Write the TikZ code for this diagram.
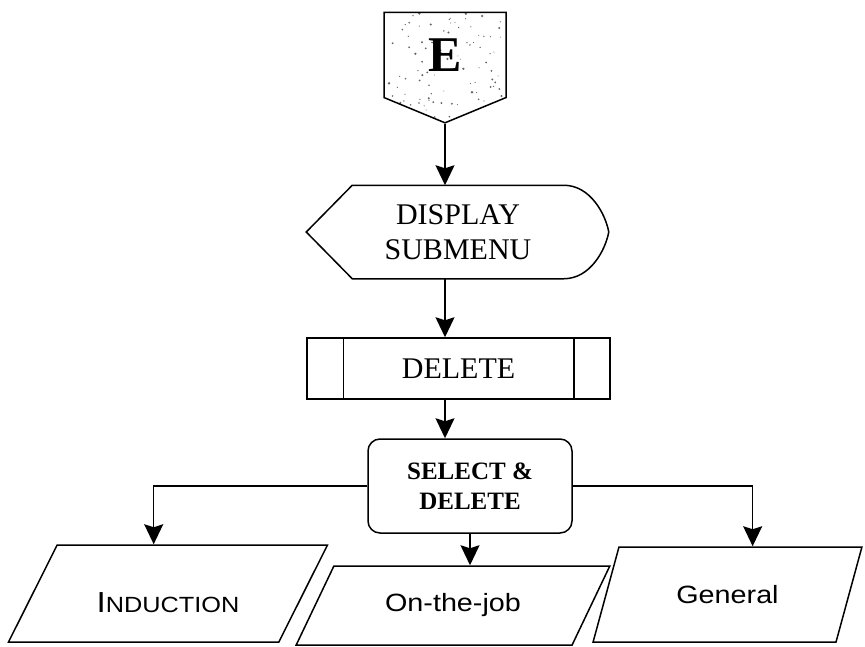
\documentclass[tikz,border=0pt]{standalone}
\usepackage{fontspec}
\setmainfont{Liberation Serif}
\newfontfamily\flowsans[FakeStretch=1.15]{Liberation Sans}
\usetikzlibrary{arrows.meta,shapes.geometric,shapes.symbols}

\begin{document}
\begin{tikzpicture}[x=1pt, y=-1pt, line width=1.5pt,
    arr/.style={-{Stealth[length=20pt,width=19pt,inset=3pt]}},
    io/.style={draw, trapezium, trapezium stretches=true, inner sep=0pt,
      font=\flowsans\fontsize{25}{30}\selectfont}]
  \useasboundingbox (0,0) rectangle (865,646);
  % off-page connector
  \node[draw, shape=signal, signal to=south, signal pointer angle=135,
    minimum width=122pt, minimum height=92pt, inner sep=0pt,
    font=\bfseries\fontsize{50}{50}\selectfont,
    path picture={\pgfmathsetseed{11}
      \foreach \k in {1,...,110}{
        \pgfmathsetmacro{\dotr}{0.5+0.8*rnd}
        \fill[black!60] ([shift={({rand*58},{rand*58})}]path picture bounding box.center)
          circle (\dotr pt);}}] (E) at (445,55) {E};
  % display
  \node[minimum width=210pt, minimum height=92pt, align=center,
    font=\fontsize{30}{35}\selectfont] (disp) at (458,232) {DISPLAY\\SUBMENU};
  \draw (disp.north west) -- (disp.north east)
    .. controls +(27,0) and +(-3,-17) .. ([xshift=45pt]disp.east)
    .. controls +(-3,17) and +(27,0) .. (disp.south east)
    -- (disp.south west) -- ([xshift=-46pt]disp.west) -- cycle;
  % predefined process
  \node[draw, minimum width=303pt, minimum height=61pt,
    font=\fontsize{30}{30}\selectfont] (del) at (458.5,368.5) {DELETE};
  \draw ([xshift=37pt]del.north west) -- ([xshift=37pt]del.south west)
    ([xshift=-37pt]del.north east) -- ([xshift=-37pt]del.south east);
  \node[draw, rounded corners=12pt, minimum width=204pt, minimum height=94pt,
    align=center, font=\bfseries\fontsize{25}{30}\selectfont] (sel) at (470,486)
    {SELECT \&\\DELETE};
  % the three outputs
  \node[io, trapezium left angle=50.5, trapezium right angle=129.5,
    minimum width=320pt, minimum height=97pt, text height=38pt, text depth=0pt]
    (ind) at (168,593.5)
    {{\fontsize{29}{30}\selectfont I}{\fontsize{22}{25}\selectfont NDUCTION}};
  \node[io, trapezium left angle=47.3, trapezium right angle=132.7,
    minimum width=314pt, minimum height=79pt] (job) at (453,605.5) {On-the-job};
  \node[io, trapezium left angle=56.4, trapezium right angle=123.6,
    minimum width=269pt, minimum height=95pt] (gen) at (727.5,594.5) {General};

  \draw[arr] (E.south) -- (E.south |- disp.north);
  \draw[arr] (disp.south -| E.south) -- (del.north -| E.south);
  \draw[arr] (del.south -| E.south) -- (sel.north -| E.south);
  \draw[arr] (sel.west) -| ([xshift=-39pt]ind.top side);
  \draw[arr] (sel.east) -| ([xshift=12pt]gen.top side);
  \draw[arr] (sel.south) -- (sel.south |- job.top side);
\end{tikzpicture}
\end{document}
